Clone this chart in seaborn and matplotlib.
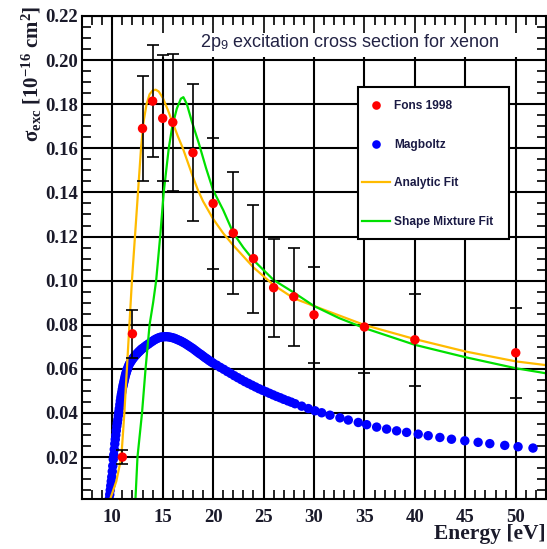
import matplotlib
matplotlib.use("Agg")
import matplotlib.pyplot as plt
from matplotlib.patches import Rectangle
from matplotlib.lines import Line2D
from matplotlib.ticker import MultipleLocator, FormatStrFormatter
import seaborn as sns

# ---------------- data ----------------
fons_e = [11, 12, 13, 14, 15, 16, 18, 20, 22, 24, 26, 28, 30, 35, 40, 50]
fons_y = [0.0200, 0.0759, 0.1690, 0.1814, 0.1736, 0.1718, 0.1580, 0.1350,
          0.1216, 0.1100, 0.0968, 0.0927, 0.0845, 0.0790, 0.0732, 0.0673]
fons_err = [0.0030, 0.0110, 0.0237, 0.0255, 0.0285, 0.0310, 0.0310, 0.0295,
            0.0277, 0.0245, 0.0223, 0.0223, 0.0219, 0.0208, 0.0209, 0.0205]

mag_e = [9.70, 9.75, 9.80, 9.85, 9.90, 9.95, 10.00, 10.05, 10.10, 10.15,
         10.20, 10.25, 10.30, 10.35, 10.40, 10.45, 10.50, 10.55, 10.60, 10.65,
         10.70, 10.75, 10.80, 10.85, 10.90, 10.95, 11.00, 11.05, 11.10, 11.15,
         11.20, 11.25, 11.30, 11.35, 11.40, 11.45, 11.50,
         11.6, 11.7, 11.8, 11.9, 12.0, 12.1, 12.2, 12.3, 12.4, 12.5,
         12.6, 12.7, 12.8, 12.9, 13.0,
         13.2, 13.4, 13.6, 13.8, 14.0, 14.2, 14.4, 14.6, 14.8, 15.0,
         15.2, 15.4, 15.6, 15.8, 16.0, 16.2, 16.4, 16.6, 16.8, 17.0,
         17.2, 17.4, 17.6, 17.8, 18.0, 18.2, 18.4, 18.6, 18.8, 19.0,
         19.2, 19.4, 19.6, 19.8, 20.0,
         20.35, 20.7, 21.05, 21.4, 21.75, 22.1, 22.45, 22.8, 23.15, 23.5,
         23.85, 24.2, 24.55, 24.9, 25.25, 25.6, 25.95, 26.3, 26.65, 27.0,
         27.4, 27.75,
         28.12, 28.78, 29.44, 30.10, 30.76, 31.58, 32.57, 33.40, 34.39, 35.22,
         36.21, 37.20, 38.19, 39.18, 40.33, 41.32, 42.48, 43.63, 44.95, 46.27,
         47.43, 48.91, 50.23, 51.71]
mag_y = [0.0010, 0.0030, 0.0050, 0.0070, 0.0090, 0.0110, 0.0135, 0.0160, 0.0190, 0.0210,
         0.0235, 0.0260, 0.0280, 0.0300, 0.0320, 0.0340, 0.0355, 0.0370, 0.0388, 0.0405,
         0.0420, 0.0438, 0.0455, 0.0470, 0.0483, 0.0495, 0.0508, 0.0520, 0.0530, 0.0540,
         0.0550, 0.0560, 0.0570, 0.0578, 0.0586, 0.0593, 0.0600,
         0.0612, 0.0622, 0.0630, 0.0637, 0.0644, 0.0650, 0.0656, 0.0661, 0.0666, 0.0671,
         0.0676, 0.0680, 0.0685, 0.0689, 0.0693,
         0.0700, 0.0707, 0.0713, 0.0720, 0.0726, 0.0732, 0.0737, 0.0741, 0.0744, 0.0745,
         0.0746, 0.0746, 0.0745, 0.0743, 0.0741, 0.0738, 0.0734, 0.0730, 0.0726, 0.0721,
         0.0716, 0.0710, 0.0704, 0.0698, 0.0692, 0.0685, 0.0678, 0.0671, 0.0665, 0.0658,
         0.0651, 0.0645, 0.0638, 0.0632, 0.0626,
         0.0617, 0.0607, 0.0598, 0.0588, 0.0579, 0.0569, 0.0560, 0.0551, 0.0542, 0.0534,
         0.0526, 0.0518, 0.0510, 0.0503, 0.0496, 0.0489, 0.0482, 0.0475, 0.0469, 0.0462,
         0.0455, 0.0449,
         0.0442, 0.0431, 0.0420, 0.0410, 0.0401, 0.0390, 0.0378, 0.0368, 0.0357, 0.0347,
         0.0336, 0.0327, 0.0319, 0.0312, 0.0304, 0.0297, 0.0289, 0.0281, 0.0274, 0.0267,
         0.0261, 0.0253, 0.0247, 0.0241]

ana_e = [9.8, 10.4, 10.9, 11.2, 11.45, 11.7, 11.95, 12.25, 12.55, 12.85,
         13.1, 13.4, 13.7, 14.0, 14.3, 14.6, 15.0, 15.5, 16.0, 16.5,
         17.0, 17.5, 18.0, 18.5, 19.0, 20.0, 21.0, 22.0, 24.0, 26.0,
         28.0, 30.0, 35.0, 40.0, 45.0, 50.0, 53.0]
ana_y = [0.001, 0.009, 0.020, 0.040, 0.060, 0.080, 0.100, 0.120, 0.140, 0.160,
         0.172, 0.180, 0.1845, 0.1862, 0.1866, 0.1858, 0.1830, 0.1775, 0.1715, 0.1655,
         0.1600, 0.1535, 0.1470, 0.1410, 0.1360, 0.1280, 0.1215, 0.1160, 0.1060, 0.0980,
         0.0920, 0.0885, 0.0799, 0.0735, 0.0679, 0.0634, 0.0617]

smf_e = [12.3, 12.5, 12.95, 13.3, 13.7, 14.05, 14.35, 14.75, 15.1, 15.6,
         15.95, 16.4, 16.8, 17.05, 17.4, 17.9, 18.6, 19.3, 20.0, 21.0,
         22.0, 23.0, 24.0, 26.0, 28.0, 30.0, 32.5, 35.0, 40.0, 45.0,
         50.0, 53.0]
smf_y = [0.001, 0.020, 0.040, 0.060, 0.080, 0.090, 0.100, 0.120, 0.140, 0.160,
         0.170, 0.178, 0.1825, 0.1832, 0.1800, 0.1720, 0.1620, 0.1510, 0.1410, 0.1320,
         0.1216, 0.1150, 0.1093, 0.1003, 0.0946, 0.0885, 0.0830, 0.0785, 0.0709, 0.0653,
         0.0603, 0.0580]

x_major = [10, 15, 20, 25, 30, 35, 40, 45, 50]
y_major = [0.02, 0.04, 0.06, 0.08, 0.10, 0.12, 0.14, 0.16, 0.18, 0.20, 0.22]

# ---------------- style ----------------
plt.rcParams['mathtext.fontset'] = 'custom'
plt.rcParams['mathtext.rm'] = 'Liberation Serif:bold'
plt.rcParams['mathtext.it'] = 'Liberation Serif:italic'
plt.rcParams['mathtext.sf'] = 'Liberation Sans'

W, H = 547, 549
fig = plt.figure(figsize=(W / 100, H / 100), dpi=100)
ax = fig.add_axes([82 / W, 1 - 499 / H, 464 / W, 483 / H])
ax.set_xlim(7, 53)
ax.set_ylim(0.001, 0.22)

# grid (manual, so the title pave can cover it)
for v in x_major:
    ax.axvline(v, color='black', lw=1.5, zorder=0.5)
for v in y_major:
    ax.axhline(v, color='black', lw=1.5, zorder=0.5)

# title pave
ax.add_patch(Rectangle((0.093, 0.915), 0.907, 0.085, transform=ax.transAxes,
                       facecolor='white', edgecolor='none', zorder=0.8))

blue = '#0000ff'
red = '#ff0000'
orange = '#ffbb00'
green = '#00e000'

sns.scatterplot(x=mag_e, y=mag_y, ax=ax, color=blue, s=46, edgecolor='none',
                linewidth=0, legend=False, zorder=2)
sns.lineplot(x=ana_e, y=ana_y, ax=ax, color=orange, lw=1.6, estimator=None,
             legend=False, zorder=2.2)
sns.lineplot(x=smf_e, y=smf_y, ax=ax, color=green, lw=1.6, estimator=None,
             legend=False, zorder=2.2)
ax.errorbar(fons_e, fons_y, yerr=fons_err, fmt='none', ecolor='black',
            elinewidth=1.2, capsize=4, capthick=1.2, zorder=2.6)
sns.scatterplot(x=fons_e, y=fons_y, ax=ax, color=red, s=46, edgecolor='none',
                linewidth=0, legend=False, zorder=3)

# ticks
ax.set_xticks(x_major)
ax.set_yticks(y_major)
ax.xaxis.set_minor_locator(MultipleLocator(1))
ax.yaxis.set_minor_locator(MultipleLocator(0.005))
ax.yaxis.set_major_formatter(FormatStrFormatter('%.2f'))
ax.tick_params(which='both', direction='in', top=True, right=True,
               width=1.2, color='black')
ax.tick_params(which='major', length=12)
ax.tick_params(which='minor', length=6.5)
ax.tick_params(axis='x', which='major', pad=7)
ax.tick_params(axis='y', which='major', pad=3)
for lab in ax.get_xticklabels() + ax.get_yticklabels():
    lab.set_fontfamily('Liberation Serif')
    lab.set_fontweight('bold')
    lab.set_fontsize(13.5)
    lab.set_color('#1a1a2a')
for s in ax.spines.values():
    s.set_linewidth(1.5)
    s.set_zorder(5)
ax.set_xlabel('')
ax.set_ylabel('')

# title inside
ax.text(0.5765, 0.946, '2p$_{\\mathsf{9}}$ excitation cross section for xenon',
        transform=ax.transAxes, ha='center', va='center', fontsize=13,
        family='Liberation Sans', color='#222244', zorder=4)

# axis labels
fig.text(546 / W, 10 / H, 'Energy [eV]', ha='right', va='baseline',
         fontsize=15.5, family='Liberation Serif', weight='bold', color='#1a1a2a')
fig.text(32 / W, 1 - 6 / H, 'σ$_{\\mathrm{exc}}$ [10$^{\\mathrm{-16}}$ cm$^{\\mathrm{2}}$]',
         ha='center', va='top', rotation=90, fontsize=15,
         family='Liberation Serif', weight='bold', color='#1a1a2a')

# legend box
ax.add_patch(Rectangle((0.595, 0.538), 0.325, 0.315, transform=ax.transAxes,
                       facecolor='white', edgecolor='black', lw=1.5, zorder=6))
handles = [
    Line2D([], [], marker='o', color=red, linestyle='none', markersize=6.2, markeredgewidth=0),
    Line2D([], [], marker='o', color=blue, linestyle='none', markersize=6.2, markeredgewidth=0),
    Line2D([], [], color=orange, lw=1.6),
    Line2D([], [], color=green, lw=1.6),
]
labels = ['Fons 1998', 'Magboltz', 'Analytic Fit', 'Shape Mixture Fit']
leg = ax.legend(handles, labels, loc='upper left', bbox_to_anchor=(0.6034, 0.8253),
                frameon=False, borderpad=0, borderaxespad=0, handlelength=2.35,
                handletextpad=0.33, labelspacing=2.22,
                prop={'family': 'Liberation Sans', 'weight': 'bold', 'size': 8.6})
for t in leg.get_texts():
    t.set_color('#1a1a44')
leg.set_zorder(7)

fig.savefig('out.png', dpi=100)
